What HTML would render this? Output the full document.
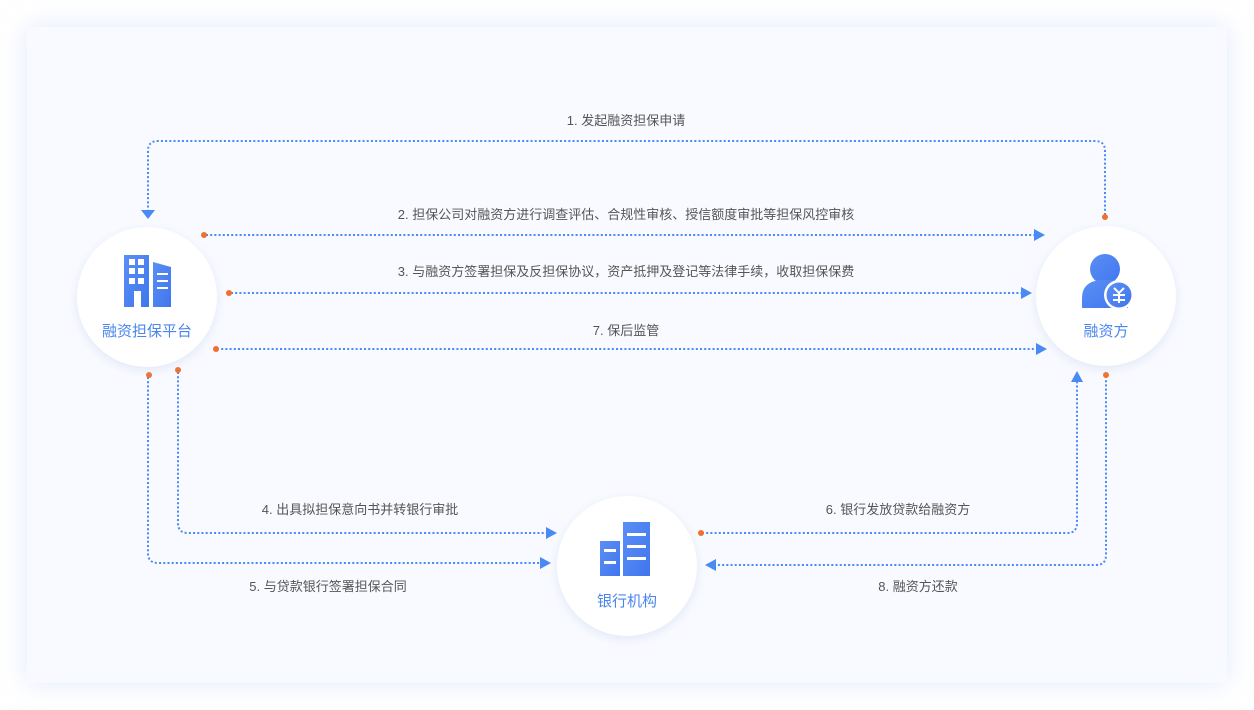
<!DOCTYPE html>
<html><head><meta charset="utf-8"><style>
html,body{margin:0;padding:0;background:#fff;}
body{width:1254px;height:710px;position:relative;overflow:hidden;font-family:"Liberation Sans","Noto Sans CJK SC",sans-serif;}
.panel{position:absolute;left:27px;top:27px;width:1200px;height:656px;background:#f8faff;box-shadow:0 0 24px rgba(200,215,245,0.55);}
svg{position:absolute;left:0;top:0;}
</style></head><body>
<div class="panel"></div>
<svg width="1254" height="710" viewBox="0 0 1254 710">
<defs>
<filter id="sh" x="-30%" y="-30%" width="160%" height="160%"><feDropShadow dx="0" dy="3" stdDeviation="5" flood-color="#b8c6e6" flood-opacity="0.35"/></filter>
<linearGradient id="g" x1="0" y1="0" x2="1" y2="1"><stop offset="0" stop-color="#5b8ff5"/><stop offset="1" stop-color="#3f76ee"/></linearGradient>
</defs>
<g fill="none" stroke="#4a8af4" stroke-width="2" stroke-dasharray="2 2.2">
<path d="M1105 215 V151 Q1105 141 1095 141 H158 Q148 141 148 151 V210"/>
<path d="M206 235 H1036"/>
<path d="M231 293 H1023"/>
<path d="M217 349 H1038"/>
<path d="M178 372 V523 Q178 533 188 533 H548"/>
<path d="M148 377 V553 Q148 563 158 563 H542"/>
<path d="M702 533 H1067 Q1077 533 1077 523 V382"/>
<path d="M1106 376 V555 Q1106 565 1096 565 H714"/>
</g>
<g fill="#4a8af4">
<path d="M141 210 L155 210 L148 219 Z"/>
<path d="M1034 229 L1045 235 L1034 241 Z"/>
<path d="M1021 287 L1032 293 L1021 299 Z"/>
<path d="M1036 343 L1047 349 L1036 355 Z"/>
<path d="M546 527 L557 533 L546 539 Z"/>
<path d="M540 557 L551 563 L540 569 Z"/>
<path d="M1071 382 L1083 382 L1077 371 Z"/>
<path d="M716 559 L705 565 L716 571 Z"/>
</g>
<g fill="#f07030">
<circle cx="1105" cy="217" r="3"/><circle cx="204" cy="235" r="3"/><circle cx="229" cy="293" r="3"/>
<circle cx="216" cy="349" r="3"/><circle cx="178" cy="370" r="3"/><circle cx="149" cy="375" r="3"/>
<circle cx="701" cy="533" r="3"/><circle cx="1106" cy="375" r="3"/>
</g>
<g font-size="13" fill="#555" text-anchor="middle">
<text x="626" y="125">1. 发起融资担保申请</text>
<text x="626" y="219">2. 担保公司对融资方进行调查评估、合规性审核、授信额度审批等担保风控审核</text>
<text x="626" y="276">3. 与融资方签署担保及反担保协议，资产抵押及登记等法律手续，收取担保保费</text>
<text x="626" y="335">7. 保后监管</text>
<text x="360" y="514">4. 出具拟担保意向书并转银行审批</text>
<text x="328" y="591">5. 与贷款银行签署担保合同</text>
<text x="898" y="514">6. 银行发放贷款给融资方</text>
<text x="918" y="591">8. 融资方还款</text>
</g>
<g filter="url(#sh)" fill="#fff">
<circle cx="147" cy="297" r="70"/><circle cx="1106" cy="296" r="70"/><circle cx="627" cy="566" r="70"/>
</g>
<g font-size="15" fill="#4a86ee" text-anchor="middle">
<text x="147" y="336">融资担保平台</text>
<text x="1106" y="336">融资方</text>
<text x="627" y="606">银行机构</text>
</g>
<!-- platform icon -->
<rect x="124" y="255" width="25" height="52" fill="url(#g)"/>
<path d="M153 262 L171 267 V307 H153 Z" fill="url(#g)"/>
<g fill="#fff">
<rect x="129" y="259" width="6" height="6"/><rect x="138" y="259" width="6" height="6"/>
<rect x="129" y="268" width="6" height="6"/><rect x="138" y="268" width="6" height="6"/>
<rect x="129" y="278" width="6" height="6"/><rect x="138" y="278" width="6" height="6"/>
<rect x="134" y="291" width="7" height="16"/>
<rect x="157" y="273" width="11" height="2"/><rect x="157" y="280" width="11" height="2"/><rect x="157" y="287" width="11" height="2"/>
</g>
<!-- person icon -->
<circle cx="1105" cy="269" r="15" fill="url(#g)"/>
<path d="M1082 308 V298 Q1082 282 1100 280 L1112 280 Q1124 282 1128 292 V308 Z" fill="url(#g)"/>
<circle cx="1119" cy="295" r="15" fill="#fff"/>
<circle cx="1119" cy="295" r="12.5" fill="url(#g)"/>
<g stroke="#fff" stroke-width="2" fill="none"><path d="M1114 288 L1119 293 L1124 288 M1113 295 H1125 M1113 300 H1125 M1119 293 V303"/></g>
<!-- bank icon -->
<rect x="600" y="541" width="20" height="35" fill="url(#g)"/>
<rect x="623" y="522" width="27" height="54" fill="url(#g)"/>
<g fill="#fff">
<rect x="604" y="549" width="12" height="3"/><rect x="604" y="561" width="12" height="3"/>
<rect x="627" y="533" width="19" height="3"/><rect x="627" y="545" width="19" height="3"/><rect x="627" y="557" width="19" height="3"/>
</g>
</svg>
</body></html>
